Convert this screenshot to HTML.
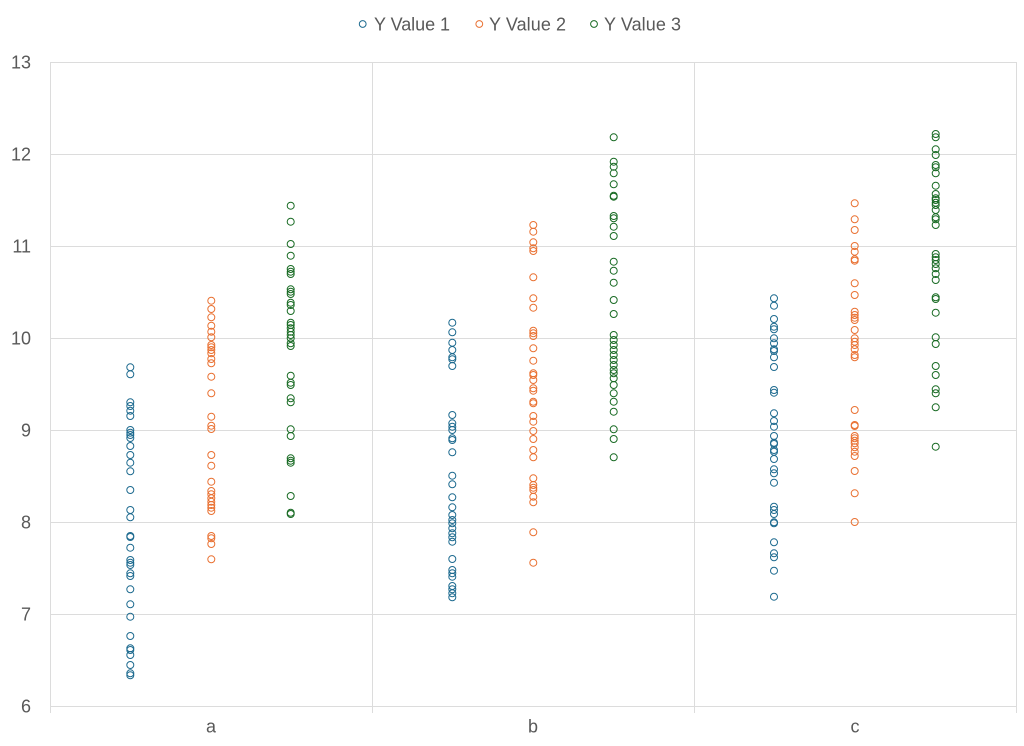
<!DOCTYPE html>
<html>
<head>
<meta charset="utf-8">
<style>
  html, body { margin:0; padding:0; background:#ffffff; }
  svg { display:block; }
  text { font-family: "Liberation Sans", sans-serif; fill:#595959; }
</style>
</head>
<body>
<svg width="1024" height="746" viewBox="0 0 1024 746" xmlns="http://www.w3.org/2000/svg">
  <rect width="1024" height="746" fill="#ffffff"/>
  <!-- gridlines -->
  <g stroke="#dcdcdc" stroke-width="1" shape-rendering="crispEdges">
    <line x1="50" y1="62.5" x2="1016" y2="62.5"/>
    <line x1="50" y1="154.5" x2="1016" y2="154.5"/>
    <line x1="50" y1="246.5" x2="1016" y2="246.5"/>
    <line x1="50" y1="338.5" x2="1016" y2="338.5"/>
    <line x1="50" y1="430.5" x2="1016" y2="430.5"/>
    <line x1="50" y1="522.5" x2="1016" y2="522.5"/>
    <line x1="50" y1="614.5" x2="1016" y2="614.5"/>
    <line x1="50" y1="706.5" x2="1016" y2="706.5"/>
    <line x1="50.5" y1="62" x2="50.5" y2="713"/>
    <line x1="372.5" y1="62" x2="372.5" y2="713"/>
    <line x1="694.5" y1="62" x2="694.5" y2="713"/>
    <line x1="1016.5" y1="62" x2="1016.5" y2="713"/>
  </g>
  <!-- y labels -->
  <g font-size="18" text-anchor="end">
    <text x="31" y="68.5">13</text>
    <text x="31" y="160.5">12</text>
    <text x="31" y="252.5">11</text>
    <text x="31" y="344.5">10</text>
    <text x="31" y="436.5">9</text>
    <text x="31" y="528.5">8</text>
    <text x="31" y="620.5">7</text>
    <text x="31" y="712.5">6</text>
  </g>
  <!-- x labels -->
  <g font-size="18" text-anchor="middle">
    <text x="211" y="732.5">a</text>
    <text x="533" y="732.5">b</text>
    <text x="855" y="732.5">c</text>
  </g>
  <!-- legend -->
  <g fill="none" stroke-width="1">
    <circle cx="362.7" cy="24" r="3.4" stroke="#1d6a8f"/>
    <circle cx="479.3" cy="24" r="3.4" stroke="#E97132"/>
    <circle cx="594" cy="24" r="3.4" stroke="#196B24"/>
  </g>
  <g font-size="18">
    <text x="374" y="30.7" textLength="76">Y Value 1</text>
    <text x="489" y="30.7" textLength="77">Y Value 2</text>
    <text x="604" y="30.7" textLength="77">Y Value 3</text>
  </g>
  <g id="pts" fill="none" stroke-width="1"></g>
</svg>
<script>
(function(){
  var ns="http://www.w3.org/2000/svg";
  var g=document.getElementById("pts");
  var data=[
    ["#1d6a8f",130.3,[367.3,374.3,402.3,406,410.7,416,430,432.7,435,438,446,455,462.7,471.3,490,510,517.3,536,537,547.7,560,562.7,565,573.3,576,589.3,604.3,616.7,636,648.3,650,655,665,673.3,675.3]],
    ["#E97132",211.3,[300.7,309,317.3,325.7,331.7,337.3,345,347.3,350,353.3,359,363.3,376.7,393.3,416.7,425.7,429,455,465.7,481.7,491,494.3,498.3,501.7,505,507.7,511,536,538.3,544,559.3]],
    ["#196B24",290.7,[205.7,221.7,244,255.7,269,271.7,274,289.3,291.7,294,302.7,305,311,322.7,325,328.3,331.7,335,338.3,343.3,346,375.7,382.7,385,398.3,402.3,429.3,436,458.3,460.7,462.7,496,512.7,514]],
    ["#1d6a8f",452.3,[322.7,332.3,342.7,350,357.3,359.3,366,415,423.3,426.7,430,438.3,440,452.3,475.7,484.3,497.3,507.3,515,520,523.3,528.3,533.3,537.3,541.7,559,570,573.3,576.7,586,589.3,593.3,597.3]],
    ["#E97132",533.3,[225,231.7,242.3,248.3,251,277.3,298.3,307.7,330.7,333.3,336,348.3,360.7,373.3,375,380,388.3,390.7,401.7,403.3,416,421.7,431,439,450,457.3,478.3,485,487.7,490,496.7,502.3,532.3,562.7]],
    ["#196B24",613.7,[137.3,161.7,166.7,173.3,184.3,195.7,196.7,216,218.3,226.7,236,261.7,270.7,282.7,300,314,335,340,345,350,355,360,365,370,373.3,378.3,385,393.3,401.7,411.7,429.3,439,457.3]],
    ["#1d6a8f",774,[298.3,305.7,319,326.7,329.3,338.3,343.3,349.3,351,357.3,367,390,392.7,413.3,421,426.7,436,442.7,444,450,451.7,459,469.3,473.3,482.7,506.7,510,514,522.3,523.3,542.3,553.3,557.3,570.7,596.7]],
    ["#E97132",854.7,[203.3,219.3,230,246,251.7,259.3,260.7,283.3,295,311.7,315,317.7,320,330,338.3,341.7,345,349.3,355,357.3,410,425,426,436,438.3,440.7,443.3,447.3,451.7,456,471,493.3,522]],
    ["#196B24",935.7,[134,137.3,149.3,155,165,167.3,173.3,185.7,194,198.3,200,202.7,205,210,217.3,219.3,225,254,257.3,260,264,268.3,274,280,297.3,299,312.7,337.3,344,366,375,389.3,393.3,407.3,446.7]]
  ];
  data.forEach(function(s){
    s[2].forEach(function(y){
      var c=document.createElementNS(ns,"circle");
      c.setAttribute("cx",s[1]);
      c.setAttribute("cy",y);
      c.setAttribute("r","3.5");
      c.setAttribute("stroke",s[0]);
      g.appendChild(c);
    });
  });
})();
</script>
</body>
</html>
